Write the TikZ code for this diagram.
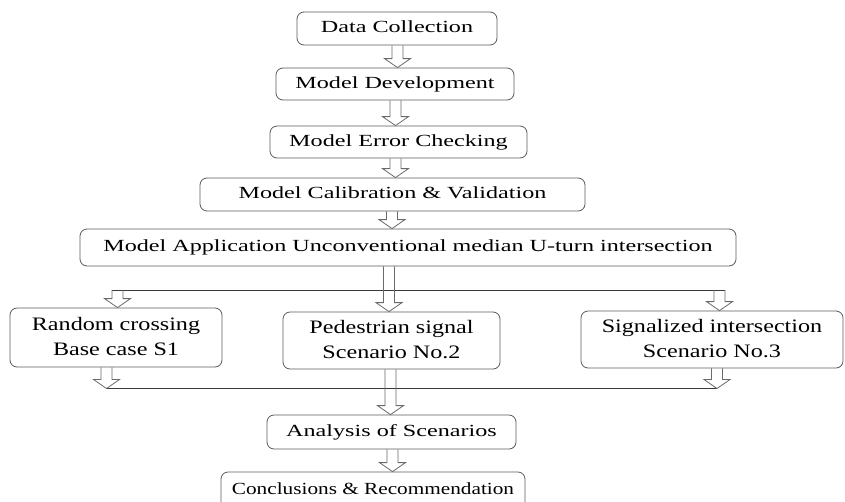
\documentclass[tikz,border=0pt]{standalone}
\usepackage{graphicx}
\usepackage{fontspec}
\setmainfont{Liberation Serif}
\usetikzlibrary{calc}
\definecolor{boxgray}{HTML}{5A5A5A}
\definecolor{arrowgray}{HTML}{6A6A6A}
\definecolor{linegray}{HTML}{3A3A3A}
\newcommand\wtxt[2][1.42]{\scalebox{#1}[1]{\begin{tabular}{@{}c@{}}#2\end{tabular}}}
\newcommand\harrowpath[2]{%
  \draw[harrow] let \p1=(#1), \p2=(#2) in
    (\x1-5.5pt,\y1) -- (\x1-5.5pt,\y2+9pt) -- (\x1-13pt,\y2+9pt) -- (\x1,\y2)
    -- (\x1+13pt,\y2+9pt) -- (\x1+5.5pt,\y2+9pt) -- (\x1+5.5pt,\y1);}
\begin{document}
\begin{tikzpicture}[x=1pt,y=-1pt,
  box/.style={draw=boxgray, line width=0.8pt, rounded corners=7pt, inner sep=0pt,
    align=center, text=black, font=\rmfamily\fontsize{17}{20}\selectfont},
  scen/.style={box, font=\rmfamily\fontsize{19}{25}\selectfont},
  harrow/.style={draw=arrowgray, line width=0.8pt, line join=miter},
  link/.style={draw=linegray, line width=0.8pt}]
\useasboundingbox (0,0) rectangle (845,501);
% boxes
\node[box, minimum width=200pt, minimum height=33pt] (dc) at (397,28.5) {\wtxt{Data Collection}};
\node[box, minimum width=238pt, minimum height=32pt] (md) at (395,84) {\wtxt{Model Development}};
\node[box, minimum width=257pt, minimum height=32pt] (ec) at (398.5,142) {\wtxt{Model Error Checking}};
\node[box, minimum width=385pt, minimum height=33pt] (cv) at (392.5,194.5) {\wtxt{Model Calibration \& Validation}};
\node[box, minimum width=656pt, minimum height=37pt] (ap) at (408,247.5) {\wtxt{Model Application Unconventional median U-turn intersection}};
\node[scen, minimum width=212pt, minimum height=59pt] (rc) at (116,337.5) {\wtxt[1.27]{Random crossing\\Base case S1}};
\node[scen, minimum width=217pt, minimum height=57pt] (ps) at (391.5,340.5) {\wtxt[1.27]{Pedestrian signal\\Scenario No.2}};
\node[scen, minimum width=262pt, minimum height=57pt] (si) at (712,339.5) {\wtxt[1.27]{Signalized intersection\\Scenario No.3}};
\node[box, minimum width=249pt, minimum height=34pt] (an) at (391.5,432) {\wtxt{Analysis of Scenarios}};
\node[box, minimum width=304pt, minimum height=38pt] (cr) at (373,491) {\raisebox{6pt}{\wtxt[1.25]{Conclusions \& Recommendation}}};
% chain arrows
\harrowpath{$(dc.south)+(0.5,0)$}{md.north}
\harrowpath{$(md.south)+(0.5,0)$}{ec.north}
\harrowpath{$(ec.south)+(-3,0)$}{cv.north}
\harrowpath{$(cv.south)+(-0.5,0)$}{ap.north}
% branch lines
\coordinate (tl) at (117.5,290);
\coordinate (tr) at (719.5,290);
\coordinate (bl) at (106.5,388.5);
\coordinate (br) at (717,388.5);
\draw[link] ($(tl)+(-5.5,0)$) -- ($(tr)+(5.5,0)$);
\draw[link] (bl) -- (br);
\harrowpath{tl}{rc.north}
\harrowpath{tr}{si.north}
\harrowpath{$(ap.south)+(-19,0)$}{ps.north}
\harrowpath{$(rc.south)+(-9.5,0)$}{bl}
\harrowpath{$(si.south)+(5,0)$}{br}
\harrowpath{$(ps.south)+(-1,0)$}{an.north}
\harrowpath{$(an.south)+(1,0)$}{cr.north}
\end{tikzpicture}
\end{document}
